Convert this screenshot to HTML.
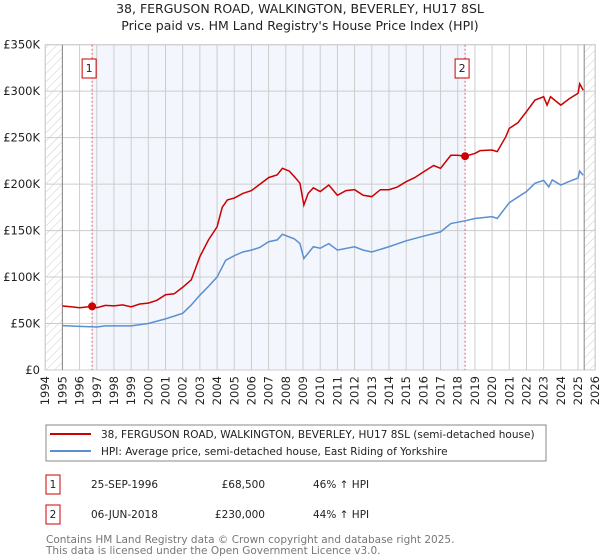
<!DOCTYPE html>
<html><head><meta charset="utf-8"><style>
body{margin:0;background:#fff;font-family:"Liberation Sans","DejaVu Sans",sans-serif;}
svg{display:block}
</style></head><body>
<svg width="600" height="560" viewBox="0 0 600 560" xmlns="http://www.w3.org/2000/svg" font-family="DejaVu Sans, Liberation Sans, sans-serif">
<defs>
<pattern id="hatch" width="6" height="6" patternUnits="userSpaceOnUse" patternTransform="rotate(45)"><line x1="0" y1="0" x2="0" y2="6" stroke="#ccc" stroke-width="1"/></pattern>
</defs>
<text x="300" y="13" text-anchor="middle" font-size="12.5" fill="#222">38, FERGUSON ROAD, WALKINGTON, BEVERLEY, HU17 8SL</text>
<text x="300" y="30" text-anchor="middle" font-size="12.5" fill="#222">Price paid vs. HM Land Registry's House Price Index (HPI)</text>
<g id="plot"></g>
<g>
<rect x="46" y="425" width="500" height="36" fill="#fff" stroke="#888"/>
<line x1="50" y1="434" x2="91" y2="434" stroke="#cc0000" stroke-width="2"/>
<text x="101" y="438" font-size="10.5" fill="#222">38, FERGUSON ROAD, WALKINGTON, BEVERLEY, HU17 8SL (semi-detached house)</text>
<line x1="50" y1="451" x2="91" y2="451" stroke="#5b8fd0" stroke-width="2"/>
<text x="101" y="455" font-size="10.5" fill="#222">HPI: Average price, semi-detached house, East Riding of Yorkshire</text>
</g>
<g font-size="10.5" fill="#222">
<rect x="46" y="475" width="14" height="19" fill="#fff" stroke="#cc0000"/>
<text x="53" y="488" text-anchor="middle">1</text>
<text x="91" y="488">25-SEP-1996</text>
<text x="265" y="488" text-anchor="end">£68,500</text>
<text x="313" y="488">46% ↑ HPI</text>
<rect x="46" y="505" width="14" height="19" fill="#fff" stroke="#cc0000"/>
<text x="53" y="518" text-anchor="middle">2</text>
<text x="91" y="518">06-JUN-2018</text>
<text x="265" y="518" text-anchor="end">£230,000</text>
<text x="313" y="518">44% ↑ HPI</text>
</g>
<text x="46" y="543" font-size="10.5" fill="#777">Contains HM Land Registry data © Crown copyright and database right 2025.</text>
<text x="46" y="554" font-size="10.5" fill="#777">This data is licensed under the Open Government Licence v3.0.</text>
</svg>
<script>
const yTicks=[0,50,100,150,200,250,300,350];
const yTickLabels=["£0","£50K","£100K","£150K","£200K","£250K","£300K","£350K"];
const xYears=[1994,1995,1996,1997,1998,1999,2000,2001,2002,2003,2004,2005,2006,2007,2008,2009,2010,2011,2012,2013,2014,2015,2016,2017,2018,2019,2020,2021,2022,2023,2024,2025,2026];
const redT=[1995,1995.5,1996,1996.73,1997,1997.5,1998,1998.5,1999,1999.5,2000,2000.5,2001,2001.5,2002,2002.5,2003,2003.5,2004,2004.3,2004.6,2005,2005.5,2006,2006.5,2007,2007.5,2007.8,2008.2,2008.5,2008.82,2009.05,2009.3,2009.6,2010,2010.5,2011,2011.5,2012,2012.5,2013,2013.5,2014,2014.5,2015,2015.5,2016,2016.6,2017,2017.6,2018,2018.43,2019,2019.3,2020,2020.3,2020.8,2021,2021.5,2022,2022.5,2023,2023.2,2023.4,2024,2024.5,2025,2025.1,2025.3];
const redV=[68.8,68,67,68.5,67,69.5,69,70,68,71,72,75,81,82,89,97,122,140,154,175,183,185,190,193,200,207,210,217,214,208,201,177.5,190,196,192,199,188,193,194,188,186.5,194,194,197,202.6,207,213,220,217,231,231,230,233,236,236.7,235,251,260,266,278,290.5,294,285,294,285,292,297.7,308,301];
const blueT=[1995,1996,1997,1997.5,1998,1999,2000,2001,2002,2002.5,2003,2003.5,2004,2004.5,2005,2005.5,2006,2006.5,2007,2007.5,2007.8,2008.5,2008.82,2009.05,2009.6,2010,2010.5,2011,2012,2012.5,2013,2014,2015,2016,2017,2017.6,2018.43,2019,2020,2020.3,2021,2022,2022.5,2023,2023.3,2023.5,2024,2024.5,2025,2025.1,2025.3];
const blueV=[47.7,47,46.3,47.5,47.5,47.5,50,55,61,70,80.5,90,100,118,123,127,129,132,138,140,146,141,136,120,132.6,131,136,129,132.6,129,127,132.6,139,144,148.6,157.6,160.5,163,165,163,180,192,201,204,197,204.5,199,203,206.5,214,209.5];
const sales=[{n:"1",t:1996.73,v:68.5},{n:"2",t:2018.43,v:230}];
const NS="http://www.w3.org/2000/svg";
const X0=45.2,X1=595.2,Y0=370,Y1=44.7;
const xs=t=>X0+(t-1994)/32*(X1-X0);
const ys=v=>Y0-v/350*(Y0-Y1);
const g=document.getElementById('plot');
function mk(tag,a){const e=document.createElementNS(NS,tag);for(const k in a)e.setAttribute(k,a[k]);g.appendChild(e);return e;}
let e;
e=mk('rect',{x:xs(1994),y:Y1,width:xs(1995)-xs(1994),height:Y0-Y1,fill:'url(#hatch)'});


e=mk('rect',{x:xs(2025.36),y:Y1,width:X1-xs(2025.36),height:Y0-Y1,fill:'url(#hatch)'});


e=mk('rect',{x:xs(sales[0].t),y:Y1,width:xs(sales[1].t)-xs(sales[0].t),height:Y0-Y1,fill:'#eef3fc',opacity:0.7});


yTicks.forEach((v,i)=>{
 e=mk('line',{x1:X0,x2:X1,y1:ys(v),y2:ys(v),stroke:'#ccc','stroke-width':1});
 
 
 e=mk('text',{x:40,y:ys(v)+4,'text-anchor':'end','font-size':11.5,fill:'#222'});
 e.textContent=yTickLabels[i];
 
 
});
xYears.forEach(y=>{
 e=mk('line',{x1:xs(y),x2:xs(y),y1:Y1,y2:Y0,stroke:'#ccc','stroke-width':1});
 
 
 e=mk('text',{x:0,y:0,'text-anchor':'end','font-size':11.5,fill:'#222',transform:`translate(${xs(y)+4},${Y0+6}) rotate(-90)`});
 e.textContent=y;
 
 
});
e=mk('rect',{x:X0,y:Y1,width:X1-X0,height:Y0-Y1,fill:'none',stroke:'#ccc'});


[1995,2025.36].forEach(t=>{
 e=mk('line',{x1:xs(t),x2:xs(t),y1:Y1,y2:Y0,stroke:'#888','stroke-width':1});
 
 
});
sales.forEach(s=>{
 e=mk('line',{x1:xs(s.t),x2:xs(s.t),y1:Y1,y2:Y0,stroke:'#e06060','stroke-width':1,'stroke-dasharray':'2,2'});
 
 
});
e=mk('polyline',{points:blueT.map((t,i)=>xs(t)+','+ys(blueV[i])).join(' '),fill:'none',stroke:'#5b8fd0','stroke-width':1.5});


e=mk('polyline',{points:redT.map((t,i)=>xs(t)+','+ys(redV[i])).join(' '),fill:'none',stroke:'#cc0000','stroke-width':1.5});


sales.forEach(s=>{
 e=mk('circle',{cx:xs(s.t),cy:ys(s.v),r:4,fill:'#cc0000'});
 
 
 e=mk('rect',{x:xs(s.t)-10,y:59,width:14,height:19,fill:'#fff',stroke:'#cc0000'});
 
 
 e=mk('text',{x:xs(s.t)-3,y:72,'text-anchor':'middle','font-size':11,fill:'#222'});
 e.textContent=s.n;
 
 
});
</script>
</body></html>
